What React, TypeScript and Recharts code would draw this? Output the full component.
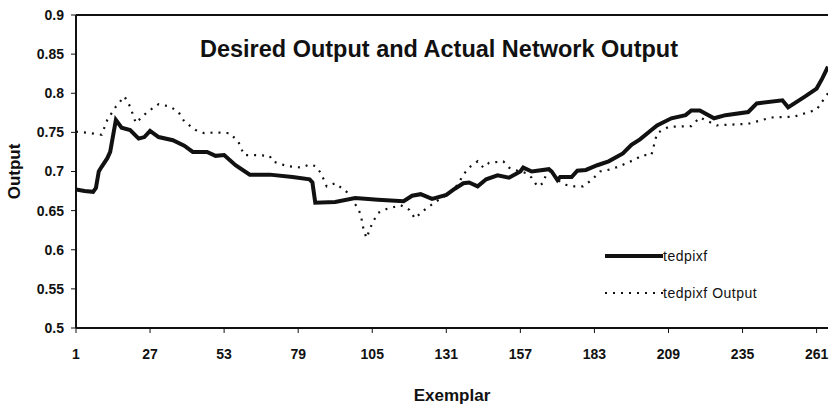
import React from 'react';
import {
  LineChart,
  Line,
  XAxis,
  YAxis,
  ReferenceLine,
  Legend,
} from 'recharts';

// exemplar index / value pairs
const desiredX = [1, 4, 7, 8, 9, 10, 12, 13, 15, 17, 20, 23, 25, 27, 30, 35, 39, 42, 47, 50, 53, 57, 62, 69, 77, 83, 84, 85, 92, 99, 107, 116, 119, 122, 126, 131, 134, 137, 139, 142, 145, 149, 153, 157, 158, 161, 167, 168, 170, 171, 175, 177, 180, 184, 188, 193, 196, 199, 203, 205, 210, 215, 217, 220, 225, 229, 237, 240, 249, 251, 257, 261, 263, 265];
const desiredY = [0.677, 0.675, 0.674, 0.679, 0.7, 0.706, 0.717, 0.725, 0.766, 0.756, 0.753, 0.742, 0.744, 0.752, 0.744, 0.74, 0.733, 0.725, 0.725, 0.72, 0.721, 0.708, 0.696, 0.696, 0.693, 0.69, 0.686, 0.66, 0.661, 0.666, 0.664, 0.662, 0.669, 0.671, 0.665, 0.67, 0.678, 0.685, 0.686, 0.681, 0.69, 0.695, 0.692, 0.7, 0.705, 0.7, 0.703, 0.7, 0.689, 0.693, 0.693, 0.701, 0.702, 0.708, 0.713, 0.723, 0.734, 0.741, 0.753, 0.759, 0.768, 0.772, 0.778, 0.778, 0.768, 0.772, 0.776, 0.787, 0.791, 0.782, 0.796, 0.806, 0.819, 0.834];

const actualX = [1, 6, 10, 12, 15, 18, 20, 22, 26, 30, 34, 37, 39, 43, 46, 50, 55, 58, 60, 64, 69, 70, 75, 80, 83, 85, 87, 89, 92, 96, 100, 101, 102, 103, 105, 107, 110, 115, 118, 120, 122, 124, 128, 132, 135, 137, 139, 142, 144, 146, 151, 153, 155, 159, 161, 163, 165, 166, 168, 170, 173, 176, 179, 182, 185, 189, 192, 197, 200, 203, 205, 209, 217, 220, 226, 237, 245, 253, 261, 265];
const actualY = [0.751, 0.749, 0.747, 0.766, 0.783, 0.796, 0.783, 0.762, 0.776, 0.786, 0.783, 0.776, 0.764, 0.753, 0.749, 0.75, 0.749, 0.738, 0.721, 0.721, 0.72, 0.713, 0.707, 0.705, 0.709, 0.707, 0.698, 0.681, 0.685, 0.674, 0.653, 0.644, 0.625, 0.615, 0.634, 0.647, 0.652, 0.657, 0.651, 0.64, 0.647, 0.653, 0.663, 0.672, 0.683, 0.696, 0.705, 0.713, 0.705, 0.711, 0.713, 0.705, 0.702, 0.698, 0.692, 0.681, 0.685, 0.696, 0.702, 0.689, 0.683, 0.681, 0.681, 0.689, 0.7, 0.703, 0.707, 0.715, 0.721, 0.721, 0.749, 0.757, 0.758, 0.769, 0.759, 0.761, 0.769, 0.77, 0.779, 0.8];

const xTicks = [1, 27, 53, 79, 105, 131, 157, 183, 209, 235, 261];
const yTicks = [0.5, 0.55, 0.6, 0.65, 0.7, 0.75, 0.8, 0.85, 0.9];

const desiredData = desiredX.map((x, i) => ({ exemplar: x, value: desiredY[i] }));
const actualData = actualX.map((x, i) => ({ exemplar: x, value: actualY[i] }));

const FONT = '"Liberation Sans", Arial, sans-serif';
const INK = '#111';

const legendStyles: Record<string, { width: number; dash?: string }> = {
  tedpixf: { width: 4 },
  'tedpixf Output': { width: 2.2, dash: '2 6' },
};

const LegendBox = (props: any) => {
  const { payload = [] } = props;
  return (
    <div style={{ fontFamily: FONT, fontSize: 14, letterSpacing: 0.5, color: INK }}>
      {payload.map((entry: any) => {
        const s = legendStyles[entry.value] || { width: 2 };
        return (
          <div key={entry.value} style={{ display: 'flex', alignItems: 'center', height: 37 }}>
            <svg width={58} height={8} style={{ display: 'block' }}>
              <line x1={0} y1={4} x2={58} y2={4} stroke={INK} strokeWidth={s.width} strokeDasharray={s.dash} />
            </svg>
            <span>{entry.value}</span>
          </div>
        );
      })}
    </div>
  );
};

const App: React.FC = () => {
  return (
    <div style={{ position: 'absolute', left: 0, top: 0, width: 830, height: 408, background: '#fff' }}>
      <LineChart width={830} height={408} margin={{ top: 15, right: 2, left: 0, bottom: 0 }}>
        <XAxis
          dataKey="exemplar"
          type="number"
          domain={[1, 265]}
          ticks={xTicks}
          allowDataOverflow
          height={80}
          axisLine={{ stroke: INK, strokeWidth: 2 }}
          tickLine={{ stroke: INK }}
          tickSize={5}
          tickMargin={16}
          tick={{ fill: INK, fontSize: 14, fontWeight: 'bold', fontFamily: FONT }}
          label={{ value: 'Exemplar', position: 'insideBottom', offset: 7, fill: INK, fontSize: 17, fontWeight: 'bold', fontFamily: FONT }}
        />
        <YAxis
          type="number"
          domain={[0.5, 0.9]}
          ticks={yTicks}
          allowDataOverflow
          width={76}
          axisLine={{ stroke: INK, strokeWidth: 2 }}
          tickLine={{ stroke: INK }}
          tickSize={5}
          tickMargin={7}
          tick={{ fill: INK, fontSize: 14, fontWeight: 'bold', fontFamily: FONT }}
          label={{ value: 'Output', angle: -90, position: 'insideLeft', offset: 14, fill: INK, fontSize: 17, fontWeight: 'bold', fontFamily: FONT, style: { textAnchor: 'middle' } }}
        />
        <ReferenceLine y={0.9} stroke={INK} strokeWidth={2} />
        <Legend
          layout="vertical"
          align="center"
          verticalAlign="middle"
          content={LegendBox}
          wrapperStyle={{ left: 605, top: 237, width: 200 }}
        />
        <Line
          data={desiredData}
          dataKey="value"
          name="tedpixf"
          type="linear"
          stroke={INK}
          strokeWidth={4}
          dot={false}
          activeDot={false}
          isAnimationActive={false}
        />
        <Line
          data={actualData}
          dataKey="value"
          name="tedpixf Output"
          type="linear"
          stroke={INK}
          strokeWidth={2.2}
          strokeDasharray="2 6"
          dot={false}
          activeDot={false}
          isAnimationActive={false}
        />
        <text
          x={439}
          y={57}
          textAnchor="middle"
          fontFamily={FONT}
          fontSize={23}
          fontWeight="bold"
          fill={INK}
          textLength={478}
          lengthAdjust="spacingAndGlyphs"
        >
          Desired Output and Actual Network Output
        </text>
      </LineChart>
    </div>
  );
};

export default App;
